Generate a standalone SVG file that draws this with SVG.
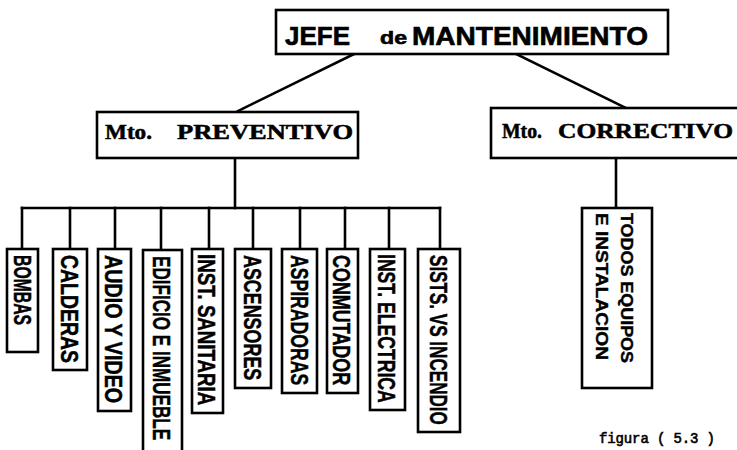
<svg xmlns="http://www.w3.org/2000/svg" width="737" height="450" viewBox="0 0 737 450">
  <style>
    .box { fill: #fff; stroke: #000; stroke-width: 2.6; }
    .wire { fill: none; stroke: #000; stroke-width: 2.6; stroke-linecap: square; }
    .head { font-family: "Liberation Sans", Arial, sans-serif; font-weight: bold; fill: #000; stroke: #000; stroke-width: 0.6; }
    .serif { font-family: "Liberation Serif", "Times New Roman", serif; font-weight: bold; fill: #000; stroke: #000; stroke-width: 0.5; }
    .vlab { font-family: "Liberation Sans", Arial, sans-serif; font-weight: bold; font-size: 24px; fill: #000; stroke: #000; stroke-width: 0.5; }
    .vsmall { font-family: "Liberation Sans", Arial, sans-serif; font-weight: bold; font-size: 16px; fill: #000; stroke: #000; stroke-width: 0.4; }
    .caption { font-family: "Liberation Mono", "Courier New", monospace; font-size: 14px; fill: #000; stroke: #000; stroke-width: 0.6; }
  </style>

  <!-- connectors -->
  <g id="connectors">
    <line class="wire" x1="354" y1="54" x2="238" y2="111"/>
    <line class="wire" x1="516" y1="54" x2="626" y2="108"/>
    <line class="wire" x1="235" y1="158" x2="235" y2="208"/>
    <line class="wire" x1="22" y1="208" x2="440" y2="208"/>
    <line class="wire" x1="22" y1="208" x2="22" y2="249"/>
    <line class="wire" x1="70" y1="208" x2="70" y2="249"/>
    <line class="wire" x1="115" y1="208" x2="115" y2="249"/>
    <line class="wire" x1="161" y1="208" x2="161" y2="250"/>
    <line class="wire" x1="209" y1="208" x2="209" y2="249"/>
    <line class="wire" x1="253" y1="208" x2="253" y2="249"/>
    <line class="wire" x1="300" y1="208" x2="300" y2="249"/>
    <line class="wire" x1="345" y1="208" x2="345" y2="249"/>
    <line class="wire" x1="389" y1="208" x2="389" y2="249"/>
    <line class="wire" x1="440" y1="208" x2="440" y2="249"/>
    <line class="wire" x1="616" y1="158" x2="616" y2="208"/>
  </g>

  <!-- top level -->
  <g id="jefe">
    <rect class="box" x="276" y="10" width="392" height="44"/>
    <text class="head" x="285" y="45" font-size="25" textLength="65" lengthAdjust="spacingAndGlyphs">JEFE</text>
    <text class="head" x="380" y="44" font-size="18" textLength="27" lengthAdjust="spacingAndGlyphs">de</text>
    <text class="head" x="412" y="45" font-size="25" textLength="236" lengthAdjust="spacingAndGlyphs">MANTENIMIENTO</text>
  </g>

  <!-- second level -->
  <g id="preventivo">
    <rect class="box" x="97" y="112" width="261" height="46"/>
    <text class="serif" x="105" y="139" font-size="20" textLength="47" lengthAdjust="spacingAndGlyphs">Mto.</text>
    <text class="serif" x="177" y="139" font-size="20" textLength="176" lengthAdjust="spacingAndGlyphs">PREVENTIVO</text>
  </g>
  <g id="correctivo">
    <rect class="box" x="491" y="108" width="260" height="50"/>
    <text class="serif" x="502" y="138" font-size="20" textLength="40" lengthAdjust="spacingAndGlyphs">Mto.</text>
    <text class="serif" x="558" y="138" font-size="20" textLength="175" lengthAdjust="spacingAndGlyphs">CORRECTIVO</text>
  </g>

  <!-- preventive maintenance areas: labels read top to bottom, condensed along the run -->
  <g id="bombas">
    <rect class="box" x="7" y="249" width="31" height="103"/>
    <text class="vlab" transform="translate(23,255) rotate(90) scale(0.62,1)" y="8.6" textLength="113" lengthAdjust="spacingAndGlyphs">BOMBAS</text>
  </g>
  <g id="calderas">
    <rect class="box" x="53" y="249" width="34" height="121"/>
    <text class="vlab" transform="translate(70,255) rotate(90) scale(0.62,1)" y="8.6" textLength="174" lengthAdjust="spacingAndGlyphs">CALDERAS</text>
  </g>
  <g id="audio">
    <rect class="box" x="98" y="249" width="33" height="162"/>
    <text class="vlab" transform="translate(114,255) rotate(90) scale(0.62,1)" y="8.6" textLength="239" lengthAdjust="spacingAndGlyphs">AUDIO Y VIDEO</text>
  </g>
  <g id="edificio">
    <rect class="box" x="143" y="250" width="39" height="215"/>
    <text class="vlab" transform="translate(162,256) rotate(90) scale(0.62,1)" y="8.6" textLength="297" lengthAdjust="spacingAndGlyphs">EDIFICIO E INMUEBLE</text>
  </g>
  <g id="sanitaria">
    <rect class="box" x="192" y="249" width="31" height="164"/>
    <text class="vlab" transform="translate(207,254) rotate(90) scale(0.62,1)" y="8.6" textLength="244" lengthAdjust="spacingAndGlyphs">INST. SANITARIA</text>
  </g>
  <g id="ascensores">
    <rect class="box" x="235" y="249" width="36" height="139"/>
    <text class="vlab" transform="translate(253,255) rotate(90) scale(0.62,1)" y="8.6" textLength="202" lengthAdjust="spacingAndGlyphs">ASCENSORES</text>
  </g>
  <g id="aspiradoras">
    <rect class="box" x="282" y="249" width="35" height="144"/>
    <text class="vlab" transform="translate(300,255) rotate(90) scale(0.62,1)" y="8.6" textLength="210" lengthAdjust="spacingAndGlyphs">ASPIRADORAS</text>
  </g>
  <g id="conmutador">
    <rect class="box" x="327" y="249" width="31" height="144"/>
    <text class="vlab" transform="translate(342,255) rotate(90) scale(0.62,1)" y="8.6" textLength="210" lengthAdjust="spacingAndGlyphs">CONMUTADOR</text>
  </g>
  <g id="electrica">
    <rect class="box" x="370" y="249" width="35" height="161"/>
    <text class="vlab" transform="translate(387,254) rotate(90) scale(0.62,1)" y="8.6" textLength="240" lengthAdjust="spacingAndGlyphs">INST. ELECTRICA</text>
  </g>
  <g id="incendio">
    <rect class="box" x="418" y="249" width="42" height="183"/>
    <text class="vlab" transform="translate(439,255) rotate(90) scale(0.62,1)" y="8.6" textLength="274" lengthAdjust="spacingAndGlyphs">SISTS. VS INCENDIO</text>
  </g>

  <!-- corrective maintenance scope -->
  <g id="todos">
    <rect class="box" x="582" y="208" width="70" height="180"/>
    <text class="vsmall" transform="translate(627,213) rotate(90)" y="5.8" textLength="150" lengthAdjust="spacingAndGlyphs">TODOS  EQUIPOS</text>
    <text class="vsmall" transform="translate(602,213) rotate(90)" y="5.8" textLength="147" lengthAdjust="spacingAndGlyphs">E INSTALACION</text>
  </g>

  <text class="caption" x="599" y="443" textLength="116" lengthAdjust="spacing">figura ( 5.3 )</text>
</svg>
